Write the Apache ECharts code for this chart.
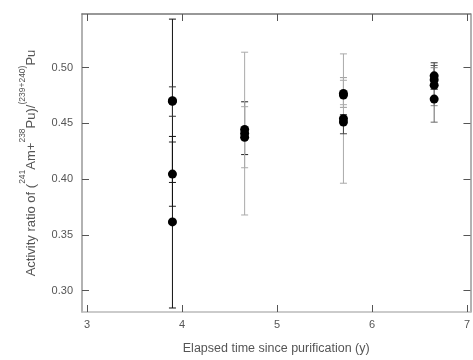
<!DOCTYPE html>
<html><head><meta charset="utf-8">
<script src="https://cdn.jsdelivr.net/npm/echarts@6/dist/echarts.min.js"></script>
<style>html,body{margin:0;padding:0;background:#fff}#c{width:473px;height:360px}</style>
</head><body><div id="c"></div>
<script>
// Data
const xTicks = [3, 4, 5, 6, 7];
const yTicks = [0.30, 0.35, 0.40, 0.45, 0.50];
const elapsed = [3.90, 3.90, 3.90, 3.90, 4.66, 4.66, 4.66, 5.70, 5.70, 5.70, 5.70, 6.655, 6.655, 6.655, 6.655];
const ratio   = [0.4703, 0.4698, 0.4045, 0.3616, 0.4445, 0.4410, 0.4375, 0.4769, 0.4754, 0.4542, 0.4512, 0.4927, 0.4892, 0.4843, 0.4718];
const errLow  = [0.3970, 0.4564, 0.3756, 0.2843, 0.4220, 0.3678, 0.4102, 0.4644, 0.4668, 0.3963, 0.4407, 0.4807, 0.4807, 0.4659, 0.4511];
const errHigh = [0.5436, 0.4828, 0.4333, 0.4383, 0.4694, 0.5139, 0.4650, 0.4911, 0.4887, 0.5124, 0.4579, 0.5044, 0.5020, 0.5000, 0.4925];

// Styles (kept separate from data)
const barColors = ['#111', '#333', '#222', '#111', '#222', '#aaa', '#aaa', '#999', '#aaa', '#aaa', '#444', '#333', '#555', '#888', '#666'];

const points = elapsed.map((x, i) => [x, ratio[i]]);
const bars = elapsed.map((x, i) => [x, errLow[i], errHigh[i], i]);

const chart = echarts.init(document.getElementById('c'), null, {renderer: 'canvas'});
const axisLineCol = '#999';
const labelCol = '#555';
const font = 'Liberation Sans, Arial, sans-serif';

chart.setOption({
  animation: false,
  backgroundColor: '#fff',
  grid: {left: 82, top: 14, right: 1, bottom: 45, show: false},
  xAxis: [{
    type: 'value', min: 2.948, max: 7.037, position: 'bottom',
    name: 'Elapsed time since purification (y)', nameLocation: 'middle', nameGap: 30,
    nameTextStyle: {fontSize: 12.5, color: labelCol, fontFamily: font},
    axisLine: {show: true, lineStyle: {color: '#bbb', width: 1.5}},
    axisTick: {show: true, inside: true, length: 7, customValues: xTicks, lineStyle: {color: '#555'}},
    axisLabel: {customValues: xTicks, color: labelCol, fontSize: 11, fontFamily: font, margin: 7},
    splitLine: {show: false}
  }, {
    type: 'value', min: 2.948, max: 7.037, position: 'top',
    axisLine: {show: true, lineStyle: {color: '#777', width: 1.5}},
    axisTick: {show: true, inside: true, length: 7, customValues: xTicks, lineStyle: {color: '#555'}},
    axisLabel: {show: false},
    splitLine: {show: false}
  }],
  yAxis: [{
    type: 'value', min: 0.2807, max: 0.5482, position: 'left',
    name: '{n|Activity ratio of (}{s|241}{n|Am+}{s|238}{n|Pu)/}{s|(239+240)}{n|Pu}',
    nameLocation: 'middle', nameGap: 44,
    nameTextStyle: {
      color: labelCol, fontFamily: font, fontSize: 13,
      rich: {
        n: {fontSize: 13, color: labelCol, fontFamily: font, lineHeight: 20, verticalAlign: 'bottom'},
        s: {fontSize: 8.5, color: labelCol, fontFamily: font, lineHeight: 20, verticalAlign: 'top'}
      }
    },
    axisLine: {show: true, lineStyle: {color: axisLineCol, width: 1.5}},
    axisTick: {show: true, inside: true, length: 7, customValues: yTicks, lineStyle: {color: '#555'}},
    axisLabel: {customValues: yTicks, color: labelCol, fontSize: 11, fontFamily: font, margin: 9,
      formatter: v => v.toFixed(2)},
    splitLine: {show: false}
  }, {
    type: 'value', min: 0.2807, max: 0.5482, position: 'right',
    axisLine: {show: true, lineStyle: {color: axisLineCol, width: 1.5}},
    axisTick: {show: true, inside: true, length: 7, customValues: yTicks, lineStyle: {color: '#555'}},
    axisLabel: {show: false},
    splitLine: {show: false}
  }],
  series: [{
    type: 'custom',
    xAxisIndex: 0, yAxisIndex: 0,
    data: bars,
    renderItem: function (params, api) {
      const x = api.value(0), lo = api.value(1), hi = api.value(2), idx = api.value(3);
      const top = api.coord([x, hi]);
      const bot = api.coord([x, lo]);
      const h = 3.5;
      const col = barColors[idx];
      const st = {stroke: col, lineWidth: 1};
      return {
        type: 'group',
        children: [
          {type: 'line', shape: {x1: top[0], y1: top[1], x2: bot[0], y2: bot[1]}, style: st},
          {type: 'line', shape: {x1: top[0] - h, y1: top[1], x2: top[0] + h, y2: top[1]}, style: st},
          {type: 'line', shape: {x1: bot[0] - h, y1: bot[1], x2: bot[0] + h, y2: bot[1]}, style: st}
        ]
      };
    },
    z: 2
  }, {
    type: 'scatter',
    xAxisIndex: 0, yAxisIndex: 0,
    data: points,
    symbol: 'circle', symbolSize: 9,
    itemStyle: {color: '#000', opacity: 1},
    z: 3
  }]
});
</script>
</body></html>
